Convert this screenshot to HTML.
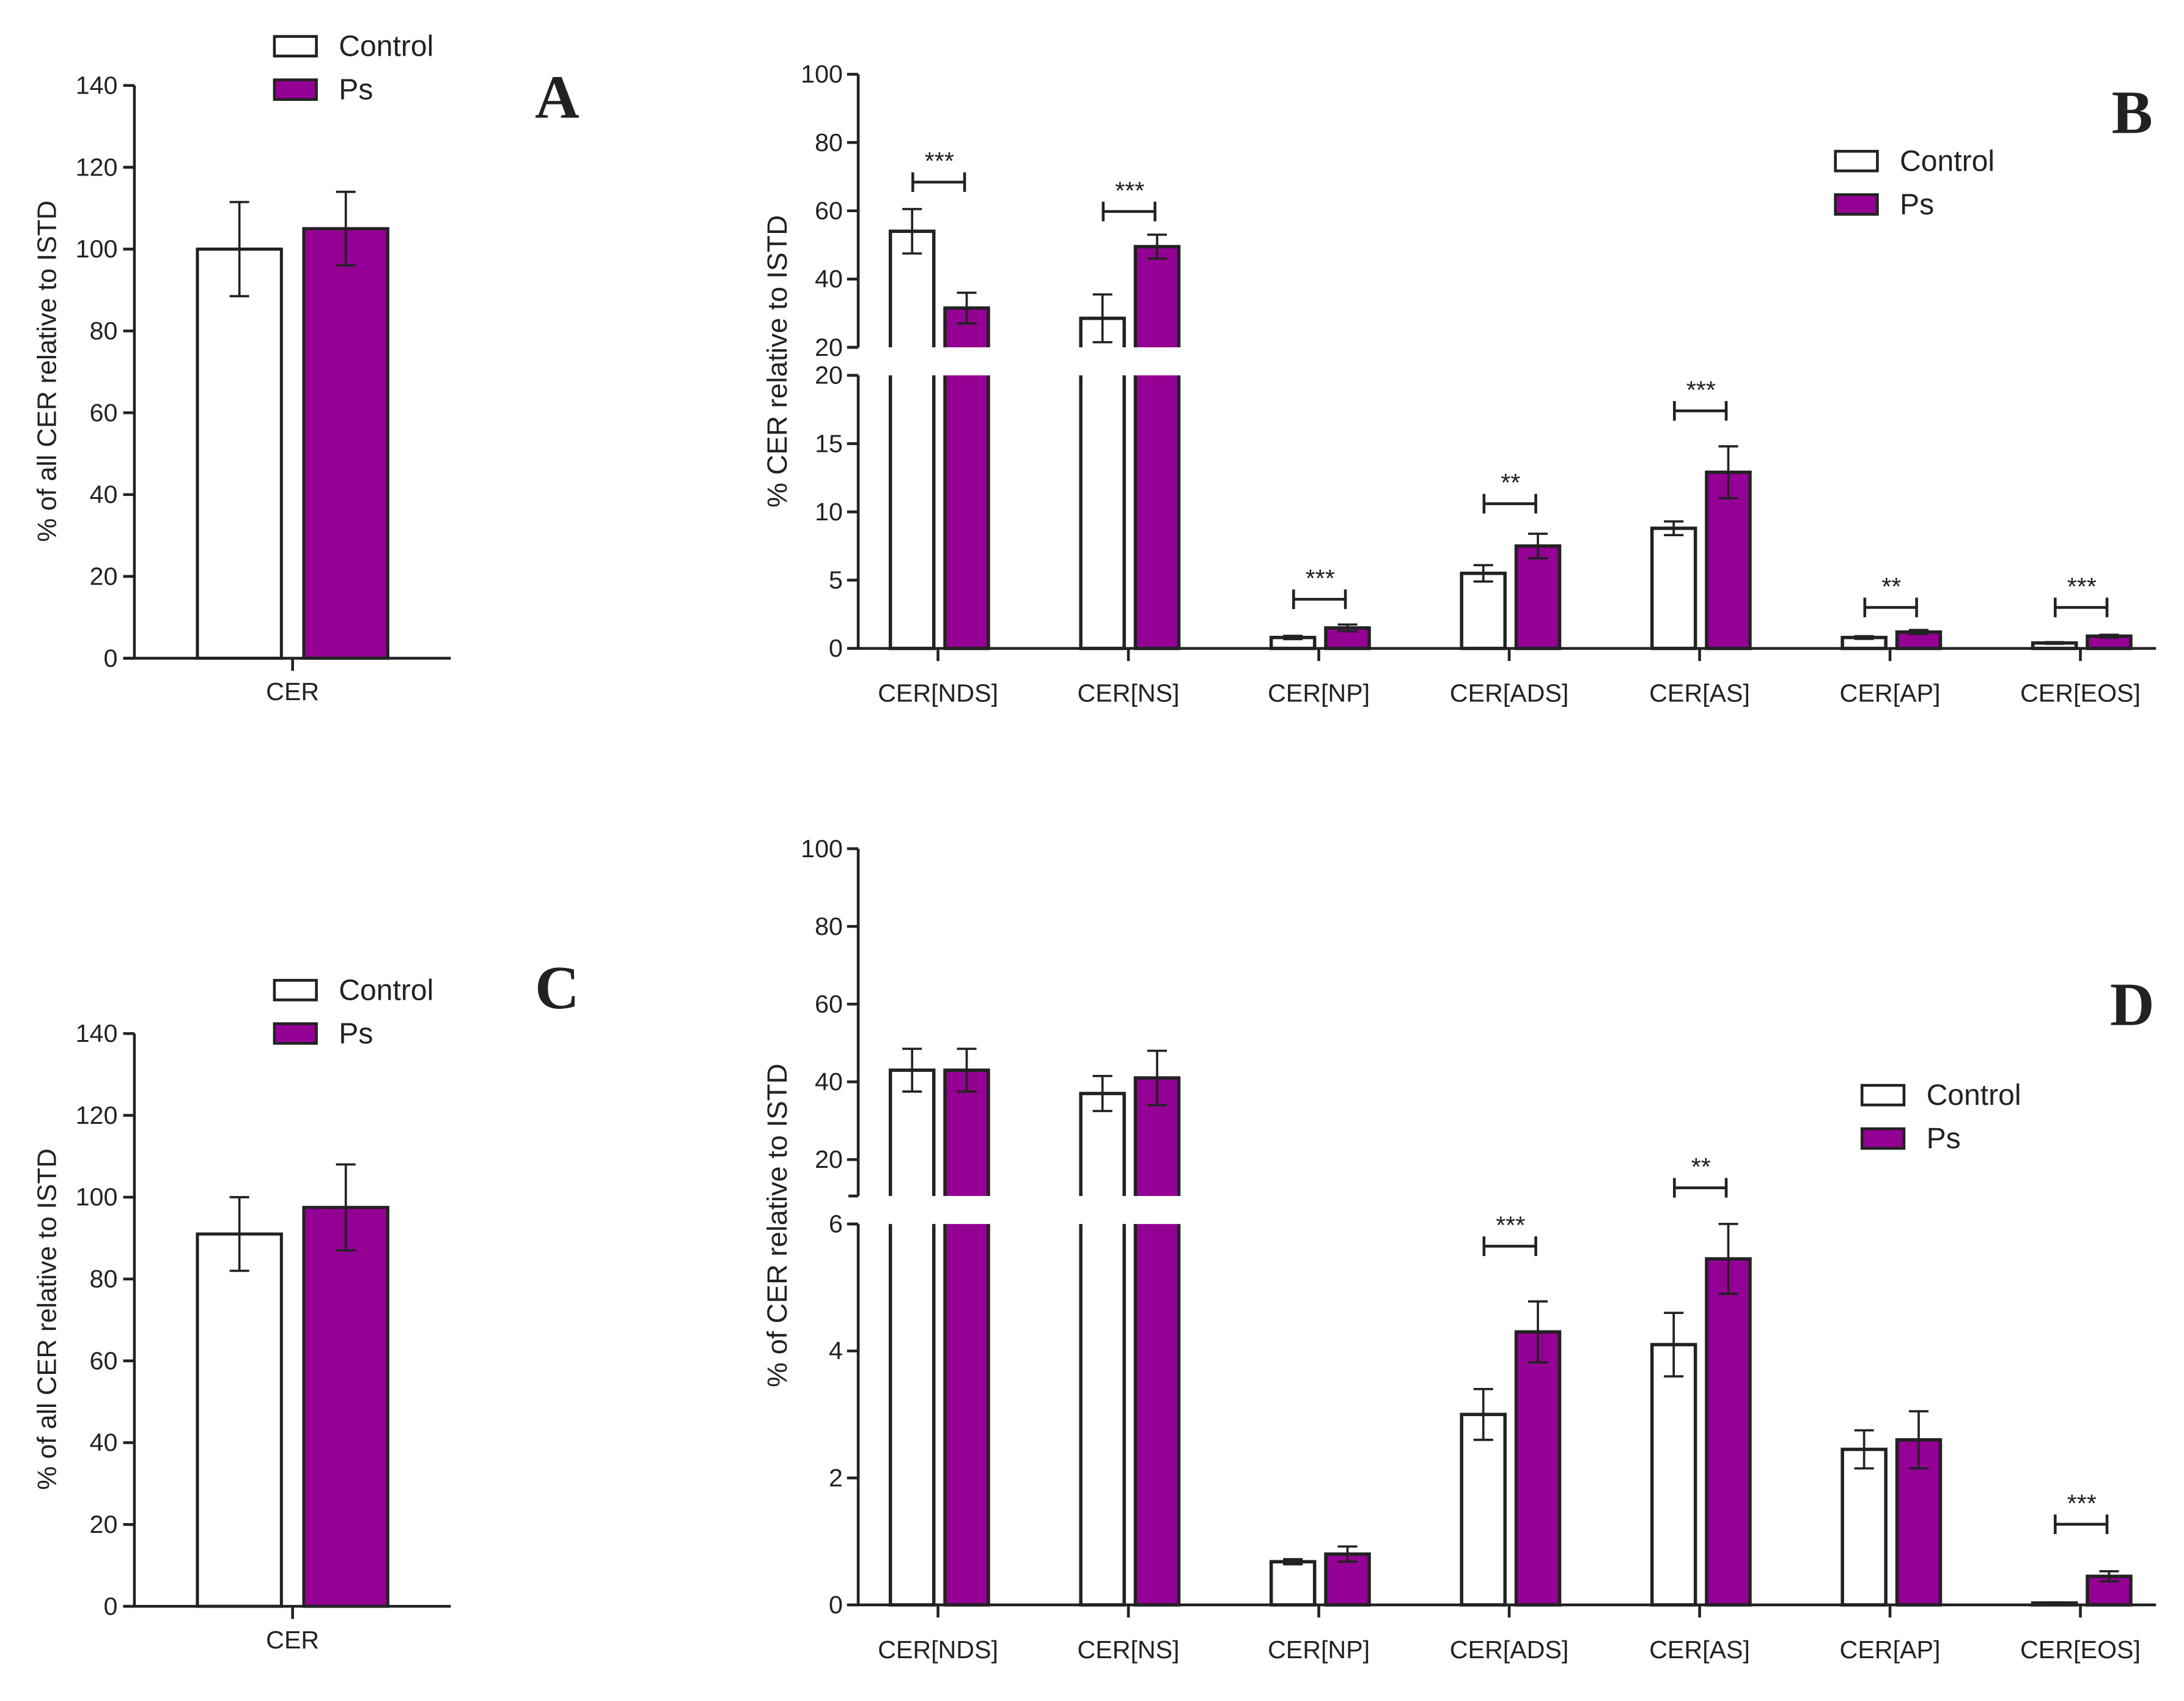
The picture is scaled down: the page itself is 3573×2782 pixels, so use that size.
<!DOCTYPE html>
<html><head><meta charset="utf-8"><style>html,body{margin:0;padding:0;background:#fff}svg{display:block}text{font-family:"Liberation Sans",Arial,sans-serif;fill:#222}</style></head>
<body>
<svg id="fig" xmlns="http://www.w3.org/2000/svg" width="3573" height="2782" viewBox="0 0 1560 1214.6"></svg>
<script>
// Panel A / C data
const totalCategories = ["CER"];
const aControl = [100], aControlErr = [11.5], aPs = [105], aPsErr = [9];
const cControl = [91], cControlErr = [9], cPs = [97.5], cPsErr = [10.5];
const totalTicks = [0,20,40,60,80,100,120,140];
// Panel B / D data
const subCategories = ["CER[NDS]","CER[NS]","CER[NP]","CER[ADS]","CER[AS]","CER[AP]","CER[EOS]"];
const bControl = [54,28.5,0.8,5.5,8.8,0.8,0.4];
const bControlErr = [6.5,7,0.12,0.6,0.5,0.1,0.06];
const bPs = [31.5,49.5,1.5,7.5,12.9,1.2,0.9];
const bPsErr = [4.5,3.5,0.25,0.9,1.9,0.15,0.1];
const bSig = ["***","***","***","**","***","**","***"];
const bSigLevel = [68.4,59.8,3.6,10.6,17.4,3.0,3.0];
const dControl = [43,37,0.68,3.0,4.1,2.45,0.03];
const dControlErr = [5.5,4.5,0.04,0.4,0.5,0.3,0.01];
const dPs = [43,41,0.8,4.3,5.45,2.6,0.45];
const dPsErr = [5.5,7,0.12,0.48,0.55,0.45,0.08];
const dSig = ["","","","***","**","","***"];
const dSigLevel = [0,0,0,5.65,6.57,0,1.27];
const bUpperTicks = [20,40,60,80,100], bLowerTicks = [0,5,10,15,20];
const dUpperTicks = [20,40,60,80,100], dLowerTicks = [0,2,4,6];

const NS="http://www.w3.org/2000/svg", svg=document.getElementById('fig');
const PURPLE="#950094";
function el(tag,attrs,parent){const e=document.createElementNS(NS,tag);for(const k in attrs)e.setAttribute(k,attrs[k]);(parent||svg).appendChild(e);return e;}
function txt(s,attrs,parent){const t=el('text',attrs,parent);t.textContent=s;return t;}
function line(x1,y1,x2,y2,w,g){return el('line',{x1,y1,x2,y2,stroke:'#222','stroke-width':w||2},g);}
function errbar(g,x,yv,ylo,yhi){line(x,ylo,x,yhi,1.6,g);line(x-7,ylo,x+7,ylo,1.6,g);line(x-7,yhi,x+7,yhi,1.6,g);}

function legend(x,y,g){
  const lg=el('g',{},g);
  
  
  const e1=el('g',{},lg);
  
  
  el('rect',{x:x,y:y,width:30,height:14,fill:'#fff',stroke:'#222','stroke-width':2},e1);
  txt('Control',{x:x+46,y:y+14,'font-size':21},e1);
  const e2=el('g',{},lg);
  
  
  el('rect',{x:x,y:y+31,width:30,height:14,fill:PURPLE,stroke:'#222','stroke-width':2},e2);
  txt('Ps',{x:x+46,y:y+45,'font-size':21},e2);
}
function letter(s,x,y){const t=txt(s,{x,y,'font-size':44,'font-weight':'bold','text-anchor':'middle',style:'font-family:"Liberation Serif",serif'});
  
  }

function totalPanel(name,y0,ctrl,ctrlE,ps,psE){
  const g=el('g',{});
  
  
  const ax=96, ytop=y0-409, yS=v=>y0-v*409/140;
  const cx=209;
  const b1=el('rect',{x:141,y:yS(ctrl[0]),width:60,height:y0-yS(ctrl[0]),fill:'#fff',stroke:'#222','stroke-width':2.2},g);
  
  
  const b2=el('rect',{x:217,y:yS(ps[0]),width:60,height:y0-yS(ps[0]),fill:PURPLE,stroke:'#222','stroke-width':2.2},g);
  
  
  errbar(g,171,0,yS(ctrl[0]-ctrlE[0]),yS(ctrl[0]+ctrlE[0]));
  errbar(g,247,0,yS(ps[0]+psE[0]),yS(ps[0]-psE[0]));
  const yax=el('g',{},g);
  
  
  line(ax,ytop,ax,y0,2,yax);
  totalTicks.forEach(t=>{line(ax-8,yS(t),ax,yS(t),2,yax);txt(String(t),{x:ax-12,y:yS(t)+6,'font-size':18,'text-anchor':'end'},yax);});
  line(88,y0,322,y0,2,g);line(cx,y0,cx,y0+9,2,g);
  const xl=txt(totalCategories[0],{x:cx,y:y0+30,'font-size':18,'text-anchor':'middle'},g);
  
  
  const yt=txt('% of all CER relative to ISTD',{x:0,y:0,'font-size':19,'text-anchor':'middle',transform:`translate(40,${y0-205}) rotate(-90)`},g);
  
  
}

function subPanel(name,cfg){
  const g=el('g',{});
  
  
  const ax=613;
  const yL=v=>cfg.y0-v*(cfg.y0-cfg.lowTopY)/cfg.lowMax;
  const yU=v=>cfg.up20Y-(v-20)*(cfg.up20Y-cfg.up100Y)/80;
  const yV=v=>v>cfg.lowMax?yU(v):yL(v);
  const centers=subCategories.map((c,i)=>670+i*136);
  subCategories.forEach((c,i)=>{
    const cx=centers[i];
    [[cfg.ctrl,cfg.ctrlE,'#fff',cx-34,'control'],[cfg.ps,cfg.psE,PURPLE,cx+5,'ps']].forEach(([vals,errs,fill,x,nm])=>{
      const v=vals[i];
      const r=el('rect',{x:x,y:yV(v),width:31,height:cfg.y0-yV(v),fill:fill,stroke:'#222','stroke-width':2.4},g);
      
      
      errbar(g,x+15.5,0,yV(v-errs[i]),yV(v+errs[i]));
    });
  });
  el('rect',{x:ax-10,y:cfg.gapTop,width:320,height:cfg.gapBot-cfg.gapTop,fill:'#fff'},g);
  subCategories.forEach((c,i)=>{
    if(!cfg.sig[i])return;
    const lv=cfg.sigLevel[i]; const y=lv>cfg.lowMax&&cfg.upperSig?yU(lv):yL(lv);
    const x1=centers[i]-18,x2=centers[i]+19;
    const sg=el('g',{},g);
    
    
    line(x1,y,x2,y,2,sg);line(x1,y-7,x1,y+7,2,sg);line(x2,y-7,x2,y+7,2,sg);
    txt(cfg.sig[i],{x:centers[i]+1,y:y-9,'font-size':18,'text-anchor':'middle'},sg);
  });
  const yax=el('g',{},g);
  
  
  line(ax,cfg.up100Y,ax,cfg.gapTop,2,yax);line(ax,cfg.gapBot,ax,cfg.y0,2,yax);
  line(ax-7,cfg.gapTop,ax,cfg.gapTop,2,yax);line(ax-7,cfg.gapBot,ax,cfg.gapBot,2,yax);
  cfg.upTicks.forEach(t=>{line(ax-8,yU(t),ax,yU(t),2,yax);txt(String(t),{x:ax-11,y:yU(t)+6,'font-size':18,'text-anchor':'end'},yax);});
  cfg.lowTicks.forEach(t=>{line(ax-8,yL(t),ax,yL(t),2,yax);txt(String(t),{x:ax-11,y:yL(t)+6,'font-size':18,'text-anchor':'end'},yax);});
  const xax=el('g',{},g);
  
  
  line(606,cfg.y0,1540,cfg.y0,2,xax);
  subCategories.forEach((c,i)=>{line(centers[i],cfg.y0,centers[i],cfg.y0+9,2,xax);
    txt(c,{x:centers[i],y:cfg.y0+38,'font-size':18,'text-anchor':'middle'},xax);});
  const yt=txt(cfg.title,{x:0,y:0,'font-size':20,'text-anchor':'middle',transform:`translate(562,${cfg.titleY}) rotate(-90)`},g);
  
  
}

totalPanel('panel-a-chart',470,aControl,aControlErr,aPs,aPsErr);
totalPanel('panel-c-chart',1147,cControl,cControlErr,cPs,cPsErr);
legend(196,26);legend(196,700);
letter('A',398,84);letter('C',398,720);

subPanel('panel-b-chart',{y0:463,lowTopY:268,lowMax:20,up20Y:248,up100Y:53,gapTop:248,gapBot:268,
  ctrl:bControl,ctrlE:bControlErr,ps:bPs,psE:bPsErr,sig:bSig,sigLevel:bSigLevel,upperSig:true,
  upTicks:bUpperTicks,lowTicks:bLowerTicks,title:'% CER relative to ISTD',titleY:258});
subPanel('panel-d-chart',{y0:1146,lowTopY:874,lowMax:6,up20Y:828,up100Y:606,gapTop:854,gapBot:874,
  ctrl:dControl,ctrlE:dControlErr,ps:dPs,psE:dPsErr,sig:dSig,sigLevel:dSigLevel,upperSig:false,
  upTicks:dUpperTicks,lowTicks:dLowerTicks,title:'% of CER relative to ISTD',titleY:875});
legend(1311,108);legend(1330,775);
letter('B',1523,95);letter('D',1523,732);
</script>
</body></html>
